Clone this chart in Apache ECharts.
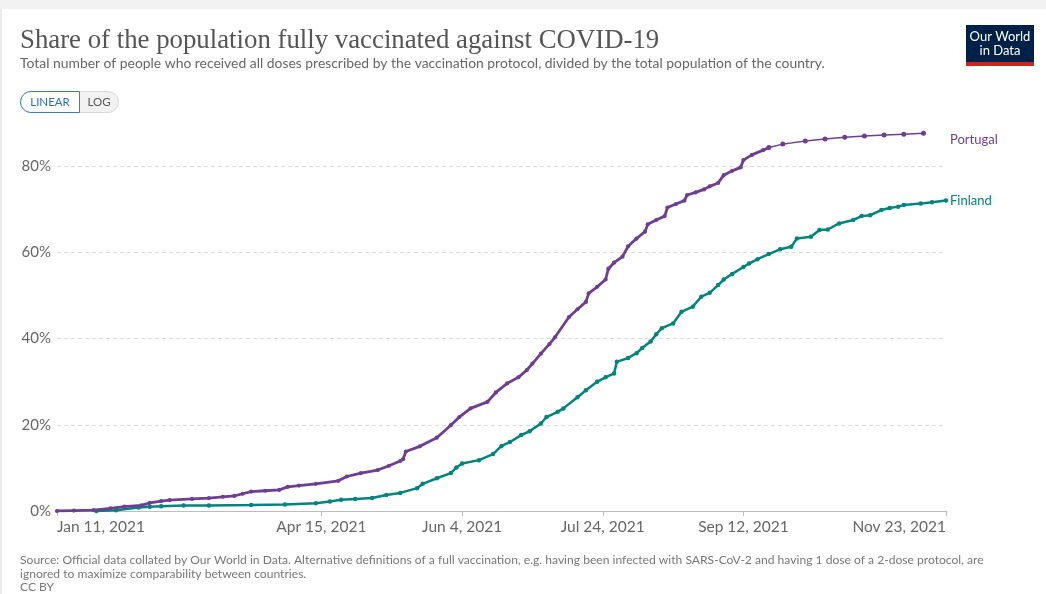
<!DOCTYPE html>
<html><head><meta charset="utf-8">
<script src="https://cdn.jsdelivr.net/npm/echarts@6/dist/echarts.min.js"></script>
<style>html,body{margin:0;padding:0;background:#fff}#c{width:1046px;height:594px}</style>
</head><body><div id="c"></div>
<script>
const tickDates = ['2021-01-11','2021-04-15','2021-06-04','2021-07-24','2021-09-12','2021-11-23'];
const yTicks = [0, 20, 40, 60, 80];

const portugalDates = ['2021-01-11','2021-01-17','2021-01-24','2021-01-30','2021-02-04','2021-02-10','2021-02-13','2021-02-17','2021-02-20','2021-02-28',
'2021-03-06','2021-03-11','2021-03-15','2021-03-18','2021-03-21','2021-03-26','2021-03-31','2021-04-03','2021-04-07','2021-04-13',
'2021-04-21','2021-04-24','2021-04-29','2021-05-05','2021-05-09','2021-05-13','2021-05-14','2021-05-15','2021-05-20','2021-05-26',
'2021-05-31','2021-06-03','2021-06-07','2021-06-13','2021-06-16','2021-06-20','2021-06-24','2021-06-27','2021-06-29','2021-07-02',
'2021-07-05','2021-07-07','2021-07-12','2021-07-15','2021-07-18','2021-07-19','2021-07-22','2021-07-25','2021-07-26','2021-07-28',
'2021-07-31','2021-08-02','2021-08-05','2021-08-08','2021-08-09','2021-08-12','2021-08-15','2021-08-16','2021-08-19','2021-08-22',
'2021-08-23','2021-08-26','2021-08-29','2021-08-31','2021-09-03','2021-09-05','2021-09-08','2021-09-11','2021-09-12','2021-09-15',
'2021-09-19','2021-09-21','2021-09-26','2021-10-04','2021-10-11','2021-10-18','2021-10-25','2021-11-01','2021-11-08','2021-11-15'];
const portugalValues = [0.0,0.1,0.2,0.6,1.0,1.3,1.9,2.3,2.5,2.8,
3.0,3.3,3.5,4.0,4.5,4.7,4.9,5.6,5.9,6.3,
7.0,8.0,8.8,9.5,10.5,11.6,12.0,13.8,15.0,17.0,
19.9,21.8,23.8,25.3,27.5,29.6,31.0,32.7,34.2,36.5,
38.7,40.3,45.0,46.8,48.5,50.5,52.0,53.7,56.2,57.6,
59.0,61.4,63.2,64.8,66.5,67.5,68.4,70.4,71.2,72.0,
73.3,73.9,74.6,75.3,76.1,77.9,78.9,79.7,81.4,82.6,
83.7,84.3,85.1,85.8,86.3,86.7,87.0,87.2,87.4,87.6];

const finlandDates = ['2021-01-25','2021-02-01','2021-02-09','2021-02-13','2021-02-17','2021-02-25','2021-03-06','2021-03-21','2021-04-02','2021-04-13',
'2021-04-18','2021-04-22','2021-04-27','2021-05-03','2021-05-08','2021-05-13','2021-05-19','2021-05-21','2021-05-26','2021-05-31',
'2021-06-02','2021-06-04','2021-06-10','2021-06-15','2021-06-18','2021-06-21','2021-06-25','2021-06-28','2021-07-02','2021-07-04',
'2021-07-08','2021-07-10','2021-07-15','2021-07-18','2021-07-22','2021-07-25','2021-07-28','2021-07-29','2021-08-02','2021-08-05',
'2021-08-07','2021-08-10','2021-08-12','2021-08-14','2021-08-18','2021-08-21','2021-08-25','2021-08-28','2021-08-31','2021-09-03',
'2021-09-05','2021-09-08','2021-09-12','2021-09-14','2021-09-17','2021-09-21','2021-09-25','2021-09-29','2021-10-01','2021-10-06',
'2021-10-09','2021-10-12','2021-10-16','2021-10-21','2021-10-24','2021-10-27','2021-10-31','2021-11-03','2021-11-06','2021-11-08',
'2021-11-14','2021-11-18','2021-11-23'];
const finlandValues = [0.0,0.2,0.8,1.0,1.1,1.3,1.3,1.4,1.5,1.8,
2.2,2.6,2.8,3.0,3.7,4.2,5.3,6.3,7.6,8.8,
10.1,11.0,11.8,13.2,15.1,16.0,17.6,18.5,20.3,21.8,
23.0,23.8,26.4,28.0,30.0,31.0,31.9,34.6,35.5,36.6,
37.8,39.3,41.0,42.4,43.5,46.2,47.4,49.7,50.6,52.4,
53.7,55.0,56.6,57.4,58.4,59.6,60.7,61.3,63.2,63.6,
65.2,65.3,66.7,67.5,68.4,68.6,69.8,70.3,70.6,71.0,
71.3,71.6,72.0];

const PURPLE = '#6d3e91', TEAL = '#00847e';
const months = ['Jan','Feb','Mar','Apr','May','Jun','Jul','Aug','Sep','Oct','Nov','Dec'];
const parseD = s => { const p = s.split('-').map(Number); return Date.UTC(p[0], p[1]-1, p[2]); };
const fmtD = v => { const d = new Date(v); return months[d.getUTCMonth()] + ' ' + d.getUTCDate() + ', ' + d.getUTCFullYear(); };

const ptAll = portugalDates.map((d, i) => [parseD(d), portugalValues[i]]);
const splitT = parseD('2021-09-21');
const ptDense = ptAll.filter(p => p[0] <= splitT);
const ptWeekly = ptAll.filter(p => p[0] >= splitT);
const fiAll = finlandDates.map((d, i) => [parseD(d), finlandValues[i]]);
const tickVals = tickDates.map(parseD);

const chart = echarts.init(document.getElementById('c'), null, {renderer: 'canvas'});
const FONT = 'Lato, "Noto Sans", sans-serif';
const option = {
  animation: false,
  backgroundColor: '#fff',
  grid: {left: 57, right: 100, top: 123, bottom: 83, containLabel: false},
  xAxis: {
    type: 'value',
    min: tickVals[0], max: tickVals[tickVals.length - 1],
    axisLine: {show: true, lineStyle: {color: '#bdbdbd', width: 1}},
    axisTick: {show: true, customValues: tickVals, length: 5, lineStyle: {color: '#bdbdbd'}},
    axisLabel: {customValues: tickVals, formatter: v => fmtD(v), color: '#666', fontSize: 15.5, fontFamily: FONT, margin: 8,
      alignMinLabel: 'left', alignMaxLabel: 'right', showMinLabel: true, showMaxLabel: true},
    splitLine: {show: false}
  },
  yAxis: {
    type: 'value', min: 0, max: 90, interval: 20,
    axisLine: {show: false}, axisTick: {show: false},
    axisLabel: {formatter: v => (yTicks.indexOf(v) >= 0 ? v + '%' : ''), color: '#666', fontSize: 15, fontFamily: FONT, margin: 6, showMaxLabel: false},
    splitLine: {show: true, showMaxLine: false, lineStyle: {type: [4, 3], color: ['#dcdcdc','#dcdcdc','#dcdcdc','#dcdcdc','#dcdcdc','rgba(0,0,0,0)'], width: 1}}
  },
  series: [
    {name: 'Finland', type: 'line', data: fiAll, color: TEAL, lineStyle: {width: 2.5, color: TEAL},
     symbol: 'circle', symbolSize: 4.5, showSymbol: true, itemStyle: {color: TEAL}, z: 2},
    {name: 'Portugal', type: 'line', data: ptDense, color: PURPLE, lineStyle: {width: 2.8, color: PURPLE},
     symbol: 'circle', symbolSize: 4.2, showSymbol: true, itemStyle: {color: PURPLE}, z: 3},
    {name: 'Portugal ', type: 'line', data: ptWeekly, color: PURPLE, lineStyle: {width: 1.5, color: PURPLE},
     symbol: 'circle', symbolSize: 5, showSymbol: true, itemStyle: {color: PURPLE}, z: 3}
  ]
};
chart.setOption(option);

const ptLast = ptAll[ptAll.length - 1], fiLast = fiAll[fiAll.length - 1];
const ptPix = chart.convertToPixel({gridIndex: 0}, ptLast);
const fiPix = chart.convertToPixel({gridIndex: 0}, fiLast);
const gx = chart.convertToPixel({gridIndex: 0}, [tickVals[tickVals.length - 1], 0])[0];

const g = [
  {type: 'rect', shape: {x: 0, y: 0, width: 1046, height: 9}, style: {fill: '#f2f2f2'}, silent: true},
  {type: 'rect', shape: {x: 0, y: 9, width: 2, height: 585}, style: {fill: '#ececec'}, silent: true},
  {type: 'text', left: 20, top: 27, style: {text: 'Share of the population fully vaccinated against COVID-19', fill: '#555', font: '26.8px "Liberation Serif", "DejaVu Serif", serif'}},
  {type: 'text', left: 20, top: 57, style: {text: 'Total number of people who received all doses prescribed by the vaccination protocol, divided by the total population of the country.', fill: '#666', font: '13.9px ' + FONT}},
  {type: 'rect', shape: {x: 20.5, y: 91.5, width: 98, height: 21, r: 10.5}, style: {fill: '#f2f2f2', stroke: '#d8d8d8', lineWidth: 1}},
  {type: 'rect', shape: {x: 20.5, y: 91.5, width: 59, height: 21, r: [10.5, 0, 0, 10.5]}, style: {fill: '#fff', stroke: '#3c7dc4', lineWidth: 1}},
  {type: 'text', x: 50, y: 102, style: {text: 'LINEAR', fill: '#2f6fb8', font: '11.5px ' + FONT, align: 'center', verticalAlign: 'middle'}},
  {type: 'text', x: 99, y: 102, style: {text: 'LOG', fill: '#555', font: '11.5px ' + FONT, align: 'center', verticalAlign: 'middle'}},
  {type: 'rect', shape: {x: 966, y: 25, width: 68, height: 41}, style: {fill: '#002147'}},
  {type: 'rect', shape: {x: 966, y: 62, width: 68, height: 4}, style: {fill: '#ce261e'}},
  {type: 'text', x: 1000, y: 37, style: {text: 'Our World', fill: '#fff', font: '13px ' + FONT, align: 'center', verticalAlign: 'middle'}},
  {type: 'text', x: 1000, y: 51, style: {text: 'in Data', fill: '#fff', font: '13px ' + FONT, align: 'center', verticalAlign: 'middle'}},
  {type: 'text', x: gx + 4, y: ptPix[1] + 6, style: {text: 'Portugal', fill: PURPLE, font: '13px ' + FONT, verticalAlign: 'middle'}},
  {type: 'text', x: gx + 4, y: fiPix[1], style: {text: 'Finland', fill: TEAL, font: '13px ' + FONT, verticalAlign: 'middle'}},
  {type: 'text', x: 20, y: 560, style: {text: 'Source: Official data collated by Our World in Data. Alternative definitions of a full vaccination, e.g. having been infected with SARS-CoV-2 and having 1 dose of a 2-dose protocol, are', fill: '#777', font: '12.1px ' + FONT, verticalAlign: 'middle'}},
  {type: 'text', x: 20, y: 574, style: {text: 'ignored to maximize comparability between countries.', fill: '#777', font: '12.1px ' + FONT, verticalAlign: 'middle'}},
  {type: 'text', x: 20, y: 587, style: {text: 'CC BY', fill: '#777', font: '12.1px ' + FONT, verticalAlign: 'middle'}}
];
chart.setOption({graphic: g});
</script>
</body></html>
